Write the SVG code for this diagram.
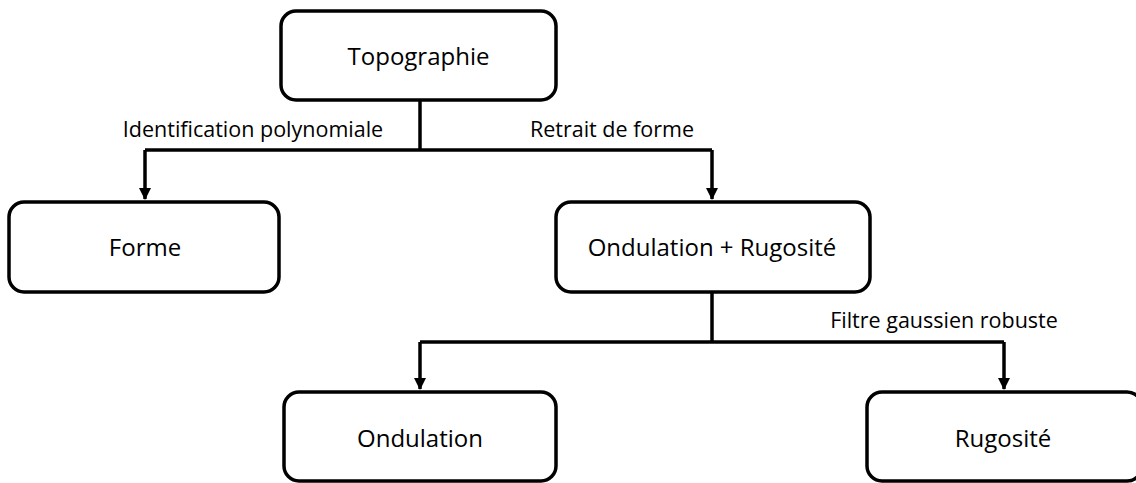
<svg xmlns="http://www.w3.org/2000/svg" width="1136" height="483" viewBox="0 0 1136 483">
<defs>
<marker id="arr" markerWidth="12" markerHeight="12" refX="11" refY="6" orient="auto" markerUnits="userSpaceOnUse" viewBox="0 0 12 12">
<path d="M0,0 L12,6 L0,12 Z" fill="#000"/>
</marker>
<style>
.box{fill:#fff;stroke:#000;stroke-width:3.5}
.t{font-family:"Open Sans","Liberation Sans",sans-serif;font-size:24px;fill:#000;text-anchor:middle}
.l{font-family:"Open Sans","Liberation Sans",sans-serif;font-size:21.5px;fill:#000;text-anchor:middle}
.c{fill:none;stroke:#000;stroke-width:3.5}
</style>
</defs>
<rect width="1136" height="483" fill="#fff"/>
<g id="connectors">
<path class="c" d="M420,101 V150"/>
<path class="c" d="M145,150 H712" />
<path class="c" d="M145,150 V199" marker-end="url(#arr)"/>
<path class="c" d="M712,150 V199" marker-end="url(#arr)"/>
<path class="c" d="M712,293 V342"/>
<path class="c" d="M420,342 H1004"/>
<path class="c" d="M420,342 V389" marker-end="url(#arr)"/>
<path class="c" d="M1004,342 V389" marker-end="url(#arr)"/>
<text class="l" x="253" y="137">Identification polynomiale</text>
<text class="l" x="612" y="137">Retrait de forme</text>
<text class="l" x="944" y="328">Filtre gaussien robuste</text>
</g>
<g id="topographie"><rect class="box" x="281" y="11" width="275" height="89" rx="15"/><text class="t" x="418.5" y="65">Topographie</text></g>
<g id="forme"><rect class="box" x="9" y="202" width="270" height="90" rx="15"/><text class="t" x="145" y="256">Forme</text></g>
<g id="ondrug"><rect class="box" x="556" y="202" width="314" height="90" rx="15"/><text class="t" x="712" y="256">Ondulation + Rugosité</text></g>
<g id="ondulation"><rect class="box" x="284" y="392" width="272" height="89" rx="15"/><text class="t" x="420" y="447">Ondulation</text></g>
<g id="rugosite"><rect class="box" x="867" y="392" width="275" height="89" rx="15"/><text class="t" x="1003" y="447">Rugosité</text></g>
</svg>
